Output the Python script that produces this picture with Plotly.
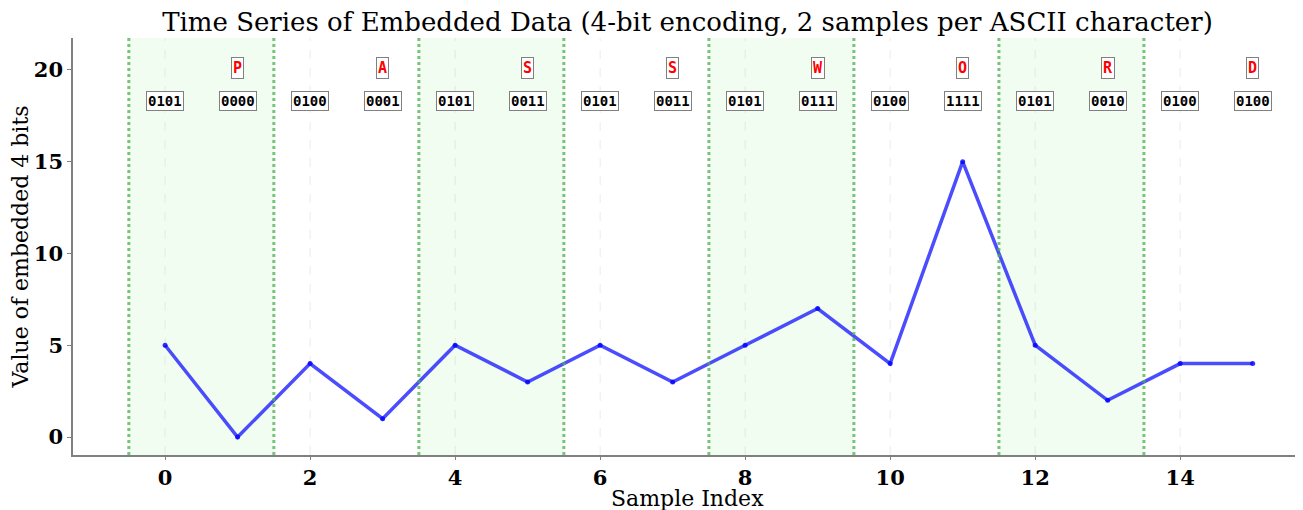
import plotly.graph_objects as go

sample_index = list(range(16))
values = [5, 0, 4, 1, 5, 3, 5, 3, 5, 7, 4, 15, 5, 2, 4, 4]
bit_labels = ["0101", "0000", "0100", "0001", "0101", "0011", "0101", "0011",
              "0101", "0111", "0100", "1111", "0101", "0010", "0100", "0100"]
chars = ["P", "A", "S", "S", "W", "O", "R", "D"]
char_x = [1, 3, 5, 7, 9, 11, 13, 15]
shade_starts = [-0.5, 3.5, 7.5, 11.5]
shade_ends = [1.5, 5.5, 9.5, 13.5]
boundaries = [-0.5, 1.5, 3.5, 5.5, 7.5, 9.5, 11.5, 13.5]
x_ticks = [0, 2, 4, 6, 8, 10, 12, 14]
y_ticks = [0, 5, 10, 15, 20]
x_title = "Sample Index"
y_title = "Value of embedded 4 bits"
chart_title = "Time Series of Embedded Data (4-bit encoding, 2 samples per ASCII character)"

fig = go.Figure()

shapes = []
for s, e in zip(shade_starts, shade_ends):
    shapes.append(dict(type="rect", xref="x", yref="paper", x0=s, x1=e, y0=0, y1=1,
                       fillcolor="rgba(144,238,144,0.12)", line=dict(width=0), layer="below"))
for xt in x_ticks:
    shapes.append(dict(type="line", xref="x", yref="paper", x0=xt, x1=xt, y0=0, y1=1,
                       line=dict(color="rgba(190,190,190,0.3)", width=1, dash="dash"), layer="below"))
for b in boundaries:
    shapes.append(dict(type="line", xref="x", yref="paper", x0=b, x1=b, y0=0, y1=1,
                       line=dict(color="rgba(76,175,80,0.75)", width=3, dash="dot"), layer="above"))

fig.add_trace(go.Scatter(x=sample_index, y=values, mode="lines+markers",
                         line=dict(color="rgba(0,0,255,0.7)", width=3.5),
                         marker=dict(color="rgba(0,0,255,0.8)", size=5),
                         showlegend=False, hoverinfo="x+y"))

annotations = []
for xi, bl in zip(sample_index, bit_labels):
    annotations.append(dict(x=xi, y=18.3, xref="x", yref="y", text=bl, showarrow=False,
                            font=dict(family="DejaVu Sans Mono", size=14, color="black", weight="bold"),
                            bgcolor="white", bordercolor="gray", borderwidth=1, borderpad=1))
for xi, c in zip(char_x, chars):
    annotations.append(dict(x=xi, y=20.1, xref="x", yref="y", text=c, showarrow=False,
                            font=dict(family="DejaVu Sans Mono", size=15, color="red", weight="bold"),
                            bgcolor="white", bordercolor="gray", borderwidth=1, borderpad=1))
annotations.append(dict(x=0.5, y=0, xref="paper", yref="paper", text=x_title, showarrow=False,
                        xanchor="center", yanchor="middle", yshift=-43,
                        font=dict(family="DejaVu Serif", size=22, color="black")))

fig.update_layout(
    width=1295, height=502,
    margin=dict(l=65, r=1, t=30, b=55),
    plot_bgcolor="white", paper_bgcolor="white",
    shapes=shapes, annotations=annotations,
    title=dict(text=chart_title,
               xref="paper", x=0.5, xanchor="center", y=0.972, yanchor="middle",
               font=dict(family="DejaVu Serif", size=26, color="black")),
    xaxis=dict(range=[-1.27, 15.68], tickvals=x_ticks, showgrid=False, zeroline=False,
               automargin=False,
               showline=True, linecolor="gray", linewidth=1.5, ticks="outside", ticklen=3,
               tickcolor="gray",
               tickfont=dict(family="DejaVu Serif", size=21, color="black", weight="bold")),
    yaxis=dict(range=[-0.98, 21.74], tickvals=y_ticks, showgrid=False, zeroline=False,
               automargin=False,
               showline=True, linecolor="gray", linewidth=1.5, ticks="outside", ticklen=4,
               tickcolor="gray",
               tickfont=dict(family="DejaVu Serif", size=21, color="black", weight="bold"),
               title=dict(text=y_title, font=dict(family="DejaVu Serif", size=22, color="black"),
                          standoff=17)),
)

fig.write_html("out.html")
